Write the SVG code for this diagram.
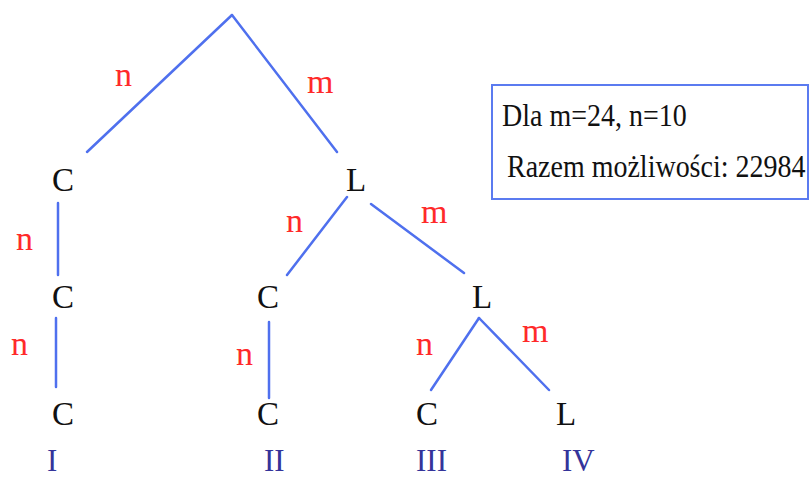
<svg xmlns="http://www.w3.org/2000/svg" width="812" height="479" viewBox="0 0 812 479">
<style>
text{font-family:'Liberation Serif','DejaVu Serif','Times New Roman',serif}
.e{stroke:#4f70ee;stroke-width:2.5;fill:none;stroke-linecap:round}
.nd{font-size:33px;fill:#111}
.lb{font-size:34px;fill:#ff2a2a}
.rn{font-size:31px;fill:#34349a}
.bx{font-size:28px;fill:#111}
</style>
<rect width="812" height="479" fill="#fff"/>
<g id="connectors">
<line class="e" x1="232" y1="15" x2="87" y2="152"/>
<line class="e" x1="232" y1="15" x2="337" y2="152"/>
<line class="e" x1="58" y1="203" x2="58" y2="275"/>
<line class="e" x1="347" y1="197" x2="287" y2="275"/>
<line class="e" x1="371" y1="204" x2="464" y2="273"/>
<line class="e" x1="56" y1="318" x2="56" y2="387"/>
<line class="e" x1="269" y1="322" x2="269" y2="398"/>
<line class="e" x1="479" y1="318" x2="431" y2="390"/>
<line class="e" x1="479" y1="318" x2="549" y2="390"/>
</g>
<g id="edge-labels">
<text class="lb" x="115" y="86">n</text>
<text class="lb" x="307" y="93">m</text>
<text class="lb" x="16" y="250">n</text>
<text class="lb" x="286" y="232">n</text>
<text class="lb" x="421" y="223">m</text>
<text class="lb" x="11" y="355">n</text>
<text class="lb" x="236" y="365">n</text>
<text class="lb" x="416" y="355">n</text>
<text class="lb" x="522" y="342">m</text>
</g>
<g id="n-c1"><text class="nd" x="52" y="191">C</text></g>
<g id="n-l1"><text class="nd" x="346" y="191">L</text></g>
<g id="n-c2a"><text class="nd" x="52" y="308">C</text></g>
<g id="n-c2b"><text class="nd" x="257" y="308">C</text></g>
<g id="n-l2"><text class="nd" x="472" y="308">L</text></g>
<g id="n-c3a"><text class="nd" x="52" y="425">C</text></g>
<g id="n-c3b"><text class="nd" x="257" y="425">C</text></g>
<g id="n-c3c"><text class="nd" x="416" y="425">C</text></g>
<g id="n-l3"><text class="nd" x="556" y="425">L</text></g>
<g id="numerals">
<text class="rn" x="47" y="471">I</text>
<text class="rn" x="264" y="471">II</text>
<text class="rn" x="416" y="471">III</text>
<text class="rn" x="562" y="471">IV</text>
</g>
<g id="info-box">
<rect x="492" y="85" width="316" height="114" fill="none" stroke="#5b7bf0" stroke-width="2"/>
<text class="bx" transform="translate(502,126) scale(1,1.15)">Dla m=24, n=10</text>
<text class="bx" transform="translate(507,177) scale(1,1.15)">Razem możliwości: 22984</text>
</g>
</svg>
